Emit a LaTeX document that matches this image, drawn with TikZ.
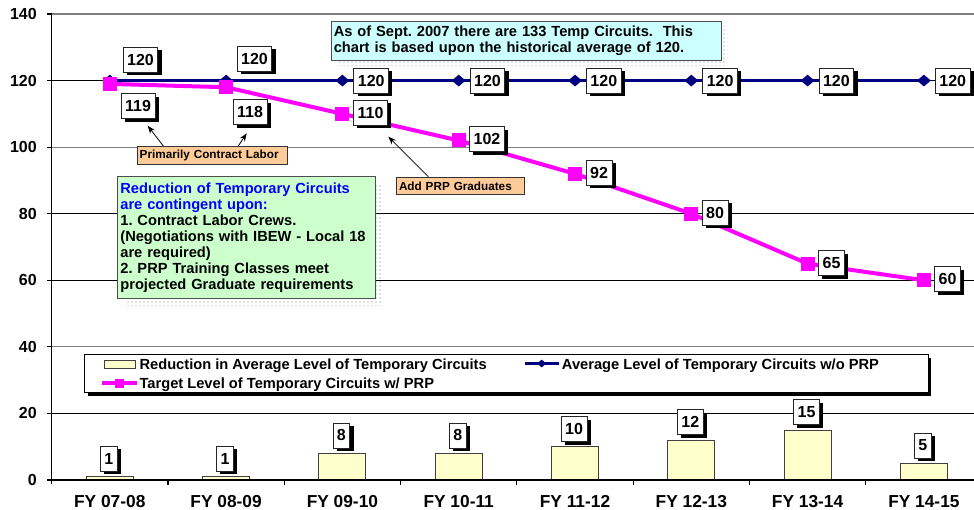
\documentclass[tikz,border=0pt]{standalone}
\usepackage{fontspec}
\setmainfont{Liberation Sans}
\usetikzlibrary{shapes.geometric,shadows,arrows.meta,patterns}
\definecolor{navyc}{HTML}{000080}
\definecolor{magc}{HTML}{FF00FF}
\definecolor{barc}{HTML}{FFFFCC}
\definecolor{cyanbox}{HTML}{CCFFFF}
\definecolor{greenbox}{HTML}{CCFFCC}
\definecolor{peach}{HTML}{FFCC99}
\definecolor{bluetxt}{HTML}{0000FF}
\definecolor{gridgray}{HTML}{808080}
\frenchspacing
\newcommand\lblfont{\fontsize{12}{14}\selectfont\bfseries}
\newcommand\axfont{\fontsize{12}{14}\selectfont\bfseries}
\newcommand\catfont{\fontsize{13}{15}\selectfont\bfseries}
\newcommand\notefont{\fontsize{11}{12}\selectfont\bfseries}
\newcommand\smallnote{\fontsize{8.8}{10}\selectfont\bfseries}
\tikzset{
  lbl/.style={draw=black!85, fill=white, line width=0.6pt, font=\lblfont,
    inner xsep=3pt, inner ysep=0pt, minimum height=18.75pt,
    drop shadow={shadow xshift=2.8pt, shadow yshift=-2.4pt, fill=black, opacity=1}},
  barstyle/.style={draw=black!75, fill=barc, line width=0.7pt},
  bluemark/.style={diamond, fill=navyc, inner sep=0pt, minimum width=10.5pt, minimum height=9pt},
  magmark/.style={rectangle, fill=magc, inner sep=0pt, minimum size=10.5pt},
  notebox/.style={draw=black!70, line width=0.6pt, align=left, inner xsep=2pt, inner ysep=2pt, font=\notefont},
  peachbox/.style={draw=black!80, fill=peach, line width=0.6pt, align=left, inner xsep=1.95pt, inner ysep=0pt, font=\smallnote},
  callarrow/.style={-{Stealth[length=6pt,width=4.5pt]}, line width=0.6pt},
  dotshadow/.style={pattern=dots, pattern color=gray}
}
\begin{document}
\begin{tikzpicture}[x=0.75pt,y=-0.75pt]
\useasboundingbox (0,0) rectangle (974,510);
\fill[white] (0,0) rectangle (974,510);

% gridlines
\foreach \yy/\cc in {14/gridgray,80.57/black,147.14/gridgray,213.71/black,280.28/black,346.86/gridgray,413.43/black}
  \draw[\cc, line width=0.8pt] (51.7,\yy) -- (974,\yy);

% y-axis labels and ticks
\foreach \yy/\t in {14/140,80.57/120,147.14/100,213.71/80,280.28/60,346.86/40,413.43/20,480/0}{
  \node[anchor=east, font=\axfont, inner sep=0pt] (ylab\t) at (37,\yy) {\t};
  \draw[black, line width=0.8pt] (47,\yy) -- (51.7,\yy);
}

% bars with labels
\foreach \i/\v in {1/1,2/1,3/8,4/8,5/10,6/12,7/15,8/5}{
  \pgfmathsetmacro\xc{109.8+116.3*(\i-1)}
  \pgfmathsetmacro\yt{480-3.3286*\v}
  \draw[barstyle] (\xc-23.5,480) rectangle (\xc+23.5,\yt);
  \node[lbl, anchor=south] (bv\i) at (\xc-1,\yt-5) {\v};
}

% axes
\draw[black, line width=0.9pt] (51.7,14) -- (51.7,484);
\draw[black, line width=0.9pt] (51.7,480) -- (974,480);
\foreach \xb in {168.0,284.3,400.6,516.9,633.2,749.5,865.8}
  \draw[black, line width=0.8pt] (\xb,480) -- (\xb,485);

% category labels
\foreach \i/\t in {1/FY 07-08,2/FY 08-09,3/FY 09-10,4/FY 10-11,5/FY 11-12,6/FY 12-13,7/FY 13-14,8/FY 14-15}{
  \pgfmathsetmacro\xc{109.8+116.3*(\i-1)}
  \node[font=\catfont, inner sep=0pt] (cat\i) at (\xc,501.7) {\t};
}

% blue series
\foreach \i in {1,...,8}{
  \pgfmathsetmacro\xc{109.8+116.3*(\i-1)}
  \coordinate (b\i) at (\xc,80.57);
}
\draw[navyc, line width=2pt] (b1) -- (b2) -- (b3) -- (b4) -- (b5) -- (b6) -- (b7) -- (b8);
\foreach \i in {1,...,8} \node[bluemark] (bm\i) at (b\i) {};

% magenta series
\coordinate (m1) at (109.8,83.90);
\coordinate (m2) at (226.1,87.23);
\coordinate (m3) at (342.4,113.85);
\coordinate (m4) at (458.7,140.48);
\coordinate (m5) at (575.0,173.77);
\coordinate (m6) at (691.3,213.71);
\coordinate (m7) at (807.6,263.64);
\coordinate (m8) at (923.9,280.28);
\draw[magc, line width=3pt] (m1) -- (m2) -- (m3) -- (m4) -- (m5) -- (m6) -- (m7) -- (m8);
\foreach \i in {1,...,8} \node[magmark] (mm\i) at (m\i) {};

% blue labels
\node[lbl] (bl1) at (140.5,59.5) {120};
\node[lbl] (bl2) at (254.5,58.7) {120};
\foreach \i in {3,...,8}{
  \node[lbl, anchor=west] (bl\i) at ([xshift=8.3pt]b\i) {120};
}

% magenta labels
\node[lbl] (ml1) at (138,106) {119};
\node[lbl] (ml2) at (250,112) {118};
\node[lbl, anchor=west] (ml3) at (353.3,112.5) {110};
\node[lbl, anchor=west] (ml4) at (469.3,139) {102};
\node[lbl, anchor=west] (ml5) at (585.7,172.5) {92};
\node[lbl, anchor=west] (ml6) at (701.7,212.5) {80};
\node[lbl, anchor=west] (ml7) at (818.3,263) {65};
\node[lbl, anchor=west] (ml8) at (934.3,279) {60};

% top note
\fill[dotshadow] (337.7,27) rectangle (727.7,66);
\node[notebox, fill=cyanbox, anchor=north west, text width=288.5pt, minimum height=29.25pt] (note1) at (330.7,21)
  {As of Sept. 2007 there are 133 Temp Circuits.\ \ This\\chart is based upon the historical average of 120.};

% green note
\fill[dotshadow] (124.3,183) rectangle (382,305.3);
\node[notebox, fill=greenbox, anchor=north west, text width=189.3pt, minimum height=91.7pt] (note2) at (117.3,176)
  {\textcolor{bluetxt}{Reduction of Temporary Circuits}\\
   \textcolor{bluetxt}{are contingent upon:}\\
   1. Contract Labor Crews.\\
   (Negotiations with IBEW - Local 18\\
   are required)\\
   2. PRP Training Classes meet\\
   projected Graduate requirements};

% peach callouts
\node[peachbox, anchor=north west, text width=109pt, minimum height=13.7pt] (pcl) at (136.7,146) {Primarily Contract Labor};
\node[peachbox, anchor=north west, text width=92.3pt, minimum height=13.2pt] (prp) at (396,176.7) {Add PRP Graduates};
\coordinate (a1) at (147.7,125.7);
\coordinate (a2) at (246.7,133.3);
\coordinate (a3) at (388.3,136.7);
\draw[callarrow] (163.3,0 |- pcl.north) -- (a1);
\draw[callarrow] (238.3,0 |- pcl.north) -- (a2);
\draw[callarrow] (428.3,0 |- prp.north) -- (a3);

% legend
\node[draw=black, fill=white, line width=0.7pt, anchor=north west, inner sep=0pt,
      minimum width=632.8pt, minimum height=28.7pt,
      drop shadow={shadow xshift=2.4pt, shadow yshift=-2.4pt, fill=black, opacity=1}] (legend) at (84,354) {};
\draw[barstyle] (104,360) rectangle (135.7,368.3);
\node[anchor=base west, font=\notefont, inner sep=0pt] (lg1) at (139.3,369) {Reduction in Average Level of Temporary Circuits};
\draw[magc, line width=3pt] (102,383.3) -- (136.7,383.3);
\node[magmark, minimum size=6.5pt] (lgm) at (119.3,383.3) {};
\node[anchor=base west, font=\notefont, inner sep=0pt] (lg2) at (139.3,388) {Target Level of Temporary Circuits w/ PRP};
\draw[navyc, line width=2pt] (525,363.5) -- (559.3,363.5);
\node[bluemark, minimum width=7pt, minimum height=6pt] (lgb) at (541.7,363.5) {};
\node[anchor=base west, font=\notefont, inner sep=0pt] (lg3) at (561.7,369) {Average Level of Temporary Circuits w/o PRP};
\end{tikzpicture}
\end{document}
